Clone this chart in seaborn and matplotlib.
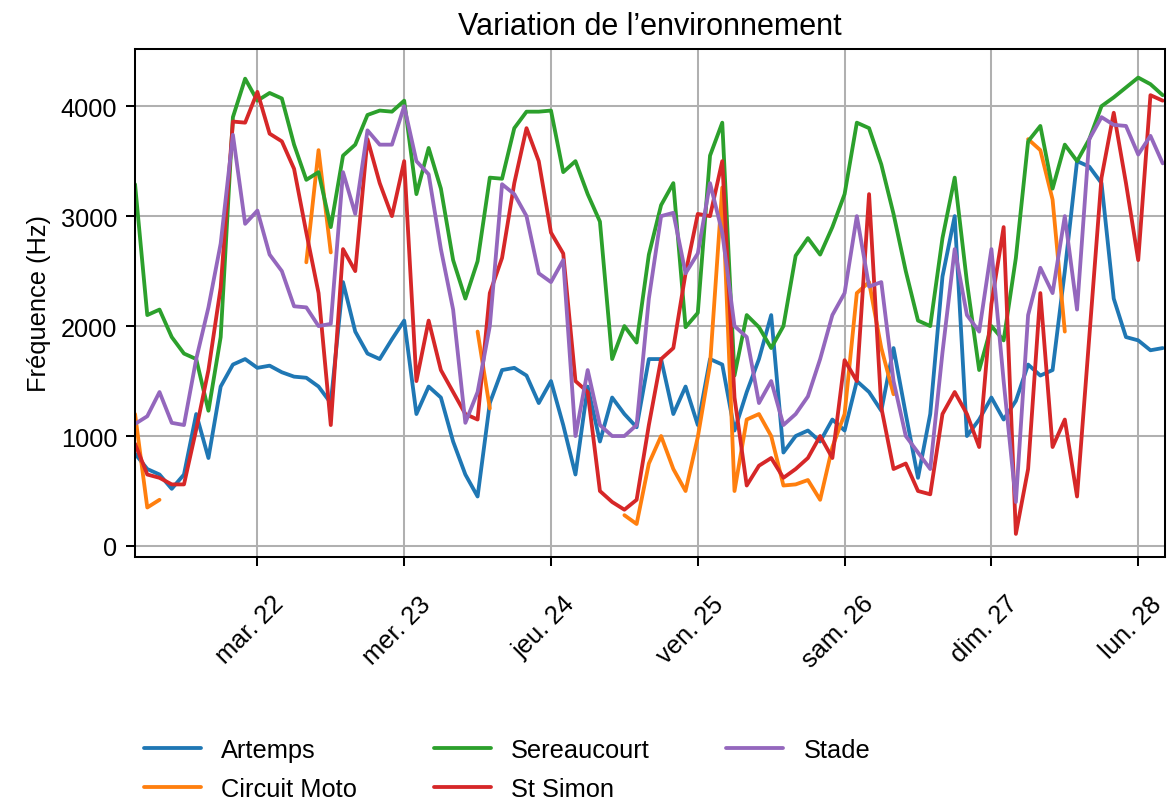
import pandas as pd
import seaborn as sns
import matplotlib.pyplot as plt
import matplotlib.dates as mdates
from matplotlib.transforms import ScaledTranslation

# Relevés toutes les 2 heures, du lundi 21 mars 04h au lundi 28 mars 04h
times = pd.date_range("2022-03-21 04:00", periods=85, freq="2h")

artemps = [840, 700, 650, 520, 650, 1200, 800, 1450, 1650, 1700,
           1620, 1640, 1580, 1540, 1530, 1450, 1300, 2400, 1950, 1750,
           1700, 1880, 2050, 1200, 1450, 1350, 950, 650, 450, 1300,
           1600, 1620, 1550, 1300, 1500, 1100, 650, 1450, 950, 1350,
           1200, 1080, 1700, 1700, 1200, 1450, 1100, 1700, 1650, 1050,
           1400, 1700, 2100, 850, 1000, 1050, 950, 1150, 1050, 1500,
           1400, 1230, 1800, 1200, 620, 1200, 2450, 3000, 1000, 1150,
           1350, 1150, 1320, 1650, 1550, 1600, 2500, 3500, 3450, 3300,
           2250, 1900, 1870, 1780, 1800]

circuit_moto = [1200, 350, 420, None, None, None, None, None, None, None,
                None, None, None, None, 2580, 3600, 2670, None, None, None,
                None, None, None, None, None, None, None, None, 1950, 1250,
                None, None, None, None, None, None, None, None, None, None,
                280, 200, 750, 1000, 700, 500, 990, 1650, 3260, 500,
                1150, 1200, 1000, 550, 560, 600, 420, 900, 1200, 2300,
                2400, 1800, 1380, None, None, None, None, None, None, None,
                None, None, None, 3700, 3600, 3150, 1950, None, None, None,
                None, None, None, None, None]

sereaucourt = [3290, 2100, 2150, 1900, 1750, 1700, 1230, 1900, 3900, 4250,
               4050, 4120, 4070, 3650, 3330, 3400, 2900, 3550, 3650, 3920,
               3960, 3950, 4050, 3200, 3620, 3250, 2600, 2250, 2590, 3350,
               3340, 3800, 3950, 3950, 3960, 3400, 3500, 3200, 2950, 1700,
               2000, 1850, 2650, 3100, 3300, 1990, 2120, 3550, 3850, 1550,
               2100, 1990, 1800, 2000, 2640, 2800, 2650, 2900, 3200, 3850,
               3800, 3470, 3020, 2500, 2050, 2000, 2800, 3350, 2400, 1600,
               2000, 1870, 2620, 3680, 3820, 3250, 3650, 3500, 3700, 4000,
               4080, 4170, 4260, 4200, 4100]

st_simon = [930, 650, 620, 560, 560, 1060, 1600, 2350, 3860, 3850,
            4130, 3750, 3680, 3430, 2850, 2300, 1100, 2700, 2500, 3700,
            3300, 3000, 3500, 1500, 2050, 1600, 1400, 1200, 1150, 2300,
            2620, 3300, 3800, 3500, 2850, 2660, 1500, 1400, 500, 400,
            330, 420, 1100, 1700, 1800, 2480, 3020, 3000, 3500, 1350,
            550, 730, 800, 620, 700, 800, 1000, 800, 1690, 1500,
            3200, 1260, 700, 750, 500, 470, 1200, 1400, 1200, 900,
            2200, 2900, 110, 700, 2300, 900, 1150, 450, 1900, 3350,
            3940, 3300, 2600, 4100, 4050]

stade = [1110, 1180, 1400, 1120, 1100, 1700, 2170, 2750, 3740, 2930,
         3050, 2650, 2500, 2180, 2170, 2000, 2020, 3400, 3020, 3780,
         3650, 3650, 4000, 3500, 3380, 2700, 2150, 1120, 1400, 2000,
         3290, 3200, 3000, 2480, 2400, 2600, 1000, 1600, 1100, 1000,
         1000, 1100, 2250, 3000, 3030, 2480, 2660, 3300, 2850, 2000,
         1900, 1300, 1500, 1100, 1200, 1360, 1700, 2100, 2300, 3000,
         2360, 2400, 1500, 1000, 850, 700, 1760, 2700, 2100, 1950,
         2700, 1500, 400, 2100, 2530, 2300, 3000, 2150, 3700, 3900,
         3830, 3820, 3560, 3730, 3480]

stations = ["Artemps", "Circuit Moto", "Sereaucourt", "St Simon", "Stade"]
series = [artemps, circuit_moto, sereaucourt, st_simon, stade]
day_names = ["lun.", "mar.", "mer.", "jeu.", "ven.", "sam.", "dim."]

# Tableau long : un segment par portion continue (les trous coupent la ligne)
frames = []
for name, values in zip(stations, series):
    v = pd.Series(values, dtype=float)
    segment = v.isna().cumsum()
    df = pd.DataFrame({"date": times, "freq": v, "station": name, "segment": segment})
    frames.append(df.dropna())
data = pd.concat(frames, ignore_index=True)
data["unit"] = data["station"] + "_" + data["segment"].astype(str)

sns.set_style("ticks", {"axes.grid": True, "grid.color": "#b0b0b0",
                        "axes.edgecolor": "black", "xtick.color": "black",
                        "ytick.color": "black", "text.color": "black",
                        "axes.labelcolor": "black"})
plt.rcParams["font.family"] = ["Liberation Sans", "DejaVu Sans"]

fig, ax = plt.subplots(figsize=(6.4, 4.377), dpi=183)
fig.subplots_adjust(left=0.1153, right=0.9949, top=0.9376, bottom=0.3034)

sns.lineplot(data=data, x="date", y="freq", hue="station", hue_order=stations,
             units="unit", estimator=None, palette="tab10", linewidth=1.5, ax=ax)

ax.set_xlim(times[0], times[-1] + pd.Timedelta("25min"))
ax.set_ylim(-100, 4520)
ax.xaxis.set_major_locator(mdates.DayLocator())
ax.xaxis.set_major_formatter(plt.FuncFormatter(
    lambda x, pos: f"{day_names[mdates.num2date(x).weekday()]} {mdates.num2date(x).day}"))
ax.set_yticks([0, 1000, 2000, 3000, 4000])
ax.tick_params(labelsize=10)
ax.tick_params(axis="x", pad=10)
shift = ScaledTranslation(-7 / 183, 0, fig.dpi_scale_trans)
for label in ax.get_xticklabels():
    label.set_rotation(45)
    label.set_transform(label.get_transform() + shift)

ax.set_xlabel("")
ax.set_ylabel("Fréquence (Hz)", fontsize=10)
ax.set_title("Variation de l\u2019environnement", fontsize=12)

ax.legend(loc="upper left", bbox_to_anchor=(-0.0136, -0.311), ncol=3, frameon=False,
          fontsize=10, handlelength=2.25, columnspacing=3.0, labelspacing=0.6)

plt.savefig("out.png")
